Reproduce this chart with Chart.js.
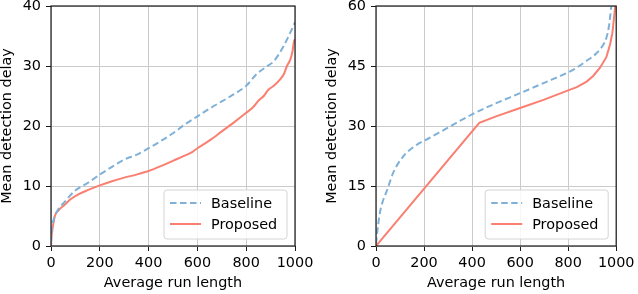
<!DOCTYPE html>
<html>
<head>
<meta charset="utf-8">
<script src="https://cdn.jsdelivr.net/npm/chart.js@4"></script>
<style>
html, body { margin: 0; padding: 0; background: #fff; }
#wrap { display: flex; width: 638px; height: 294px; }
canvas { display: block; }
</style>
</head>
<body>
<div id="wrap">
  <canvas id="leftChart" width="319" height="294"></canvas>
  <canvas id="rightChart" width="319" height="294"></canvas>
</div>
<script>
// left panel
const leftBaselineX = [0, 3, 10, 25, 57, 98, 150, 200, 250, 300, 350, 400, 450, 500, 550, 600, 650, 700, 750, 800, 844, 880, 913, 953, 981, 1000];
const leftBaselineY = [0.5, 2.8, 4.3, 5.8, 7.4, 9.2, 10.5, 11.9, 13.2, 14.4, 15.2, 16.3, 17.5, 18.8, 20.3, 21.6, 22.9, 24.1, 25.3, 26.7, 28.7, 29.8, 30.8, 33.3, 35.6, 37.3];
const leftProposedX = [0, 2, 5, 16, 30, 57, 80, 112, 150, 200, 250, 300, 350, 400, 450, 500, 550, 580, 600, 650, 700, 750, 800, 830, 850, 872, 890, 913, 940, 955, 967, 981, 990, 995, 1000];
const leftProposedY = [0, 1.5, 2.5, 5, 5.9, 6.9, 7.8, 8.6, 9.3, 10.1, 10.8, 11.4, 11.9, 12.5, 13.3, 14.2, 15.1, 15.7, 16.3, 17.6, 19.1, 20.6, 22.2, 23.2, 24.2, 25, 26, 26.7, 27.8, 28.7, 30, 31.1, 32.5, 33.9, 34.5];

// right panel
const rightBaselineX = [0, 3, 16, 30, 44, 71, 112, 180, 200, 276, 300, 400, 500, 600, 700, 800, 836, 877, 918, 945, 959, 970, 980];
const rightBaselineY = [0.5, 2.3, 8.2, 11.5, 13.6, 18.2, 22.3, 25.7, 26.3, 28.8, 29.6, 32.9, 35.7, 38.2, 40.8, 43.4, 44.6, 46.3, 48.2, 50.2, 52, 55, 60];
const rightProposedX = [0, 430, 500, 600, 700, 800, 836, 877, 904, 932, 959, 975, 984, 990, 996];
const rightProposedY = [0, 30.8, 32.4, 34.5, 36.6, 38.9, 39.7, 41.1, 42.5, 44.5, 47.2, 50.5, 53.2, 56.5, 60];

const xTicks = [0, 200, 400, 600, 800, 1000];
const leftYTicks = [0, 10, 20, 30, 40];
const rightYTicks = [0, 15, 30, 45, 60];

const seriesNames = ['Baseline', 'Proposed'];
const blue = '#7fb1d8';
const red = '#fa7f70';
const font = { family: 'DejaVu Sans', size: 14.4 };

function toPoints(xs, ys) {
  return xs.map((x, i) => ({ x: x, y: ys[i] }));
}

const framePlugin = {
  id: 'frame',
  afterDatasetsDraw(chart) {
    const a = chart.chartArea;
    const ctx = chart.ctx;
    ctx.save();
    ctx.strokeStyle = '#1a1a1a';
    ctx.lineWidth = 1.2;
    ctx.strokeRect(a.left, a.top, a.right - a.left, a.bottom - a.top);

    // legend box in lower right corner
    const w = 123, h = 49;
    const bx = a.right - 8 - w, by = a.bottom - 7 - h;
    ctx.beginPath();
    ctx.roundRect(bx, by, w, h, 3);
    ctx.fillStyle = 'rgba(255,255,255,0.85)';
    ctx.fill();
    ctx.strokeStyle = '#d4d4d4';
    ctx.lineWidth = 1;
    ctx.stroke();
    chart.data.datasets.forEach((ds, i) => {
      const ry = by + 13 + i * 21;
      ctx.beginPath();
      ctx.setLineDash(ds.borderDash || []);
      ctx.strokeStyle = ds.borderColor;
      ctx.lineWidth = 2;
      ctx.moveTo(bx + 6, ry);
      ctx.lineTo(bx + 37, ry);
      ctx.stroke();
      ctx.setLineDash([]);
      ctx.fillStyle = '#000';
      ctx.font = font.size + 'px "DejaVu Sans"';
      ctx.textBaseline = 'middle';
      ctx.fillText(ds.label, bx + 47, ry + 1);
    });
    ctx.restore();
  }
};

function makeChart(id, baseX, baseY, propX, propY, yTicks, yWidth, titlePad, padRight, propSmooth) {
  new Chart(document.getElementById(id), {
    type: 'line',
    data: {
      datasets: [{
        label: seriesNames[0],
        data: toPoints(baseX, baseY),
        borderColor: blue,
        borderWidth: 2,
        borderDash: [6.5, 3.5],
        pointRadius: 0,
        cubicInterpolationMode: 'monotone'
      }, {
        label: seriesNames[1],
        data: toPoints(propX, propY),
        borderColor: red,
        borderWidth: 2,
        pointRadius: 0,
        cubicInterpolationMode: propSmooth ? 'monotone' : 'default',
        tension: 0
      }]
    },
    options: {
      responsive: false,
      animation: false,
      layout: { padding: { top: 0, right: padRight, bottom: 0, left: 0 } },
      plugins: { legend: { display: false }, tooltip: { enabled: false } },
      scales: {
        x: {
          type: 'linear',
          min: xTicks[0],
          max: xTicks[xTicks.length - 1],
          afterBuildTicks: s => { s.ticks = xTicks.map(v => ({ value: v })); },
          afterFit: s => { s.height = 48; },
          grid: { color: '#cbcbcb', lineWidth: 1, tickColor: '#1a1a1a', tickLength: 5 },
          border: { display: false },
          ticks: { color: '#000', font: font, padding: 3.5, maxRotation: 0, callback: v => String(v) },
          title: { display: true, text: 'Average run length', color: '#000', font: font, padding: { top: 0, bottom: 2.3 } }
        },
        y: {
          type: 'linear',
          min: yTicks[0],
          max: yTicks[yTicks.length - 1],
          afterBuildTicks: s => { s.ticks = yTicks.map(v => ({ value: v })); },
          afterFit: s => { s.width = yWidth; s.paddingTop = 6; s.paddingBottom = 0; },
          grid: { color: '#cbcbcb', lineWidth: 1, tickColor: '#1a1a1a', tickLength: 5 },
          border: { display: false },
          ticks: { color: '#000', font: font, padding: 5, callback: v => String(v) },
          title: { display: true, text: 'Mean detection delay', color: '#000', font: Object.assign({}, font, { lineHeight: 1.05 }), padding: { top: titlePad, bottom: 0 } }
        }
      }
    },
    plugins: [framePlugin]
  });
}

makeChart('leftChart', leftBaselineX, leftBaselineY, leftProposedX, leftProposedY, leftYTicks, 51, 0, 24, true);
makeChart('rightChart', rightBaselineX, rightBaselineY, rightProposedX, rightProposedY, rightYTicks, 57, 5.6, 18, false);
</script>
</body>
</html>
